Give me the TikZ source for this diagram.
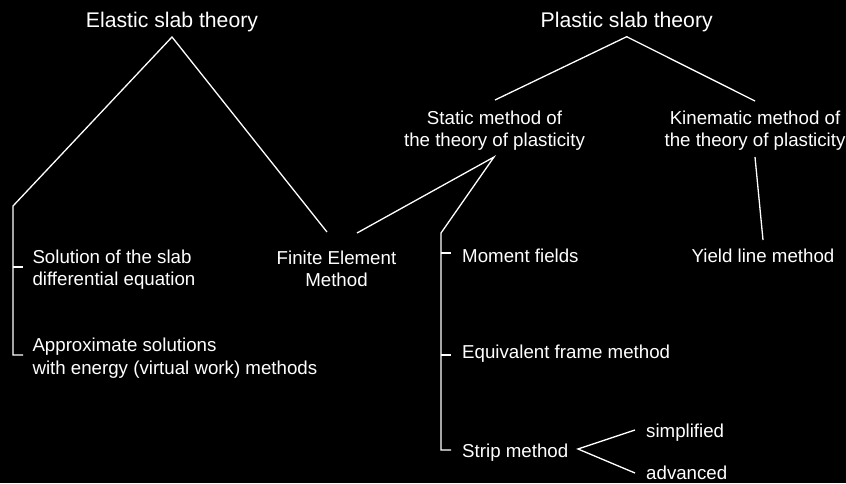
\documentclass[tikz,border=0pt]{standalone}
\usepackage{fontspec}
\setmainfont{Liberation Sans}
\newcommand\bodyfnt{\fontsize{18.7}{22.4}\selectfont}
\newcommand\titlefnt{\fontsize{21.2}{25}\selectfont}
\begin{document}
\begin{tikzpicture}[x=1pt,y=-1pt,
  txt/.style={text=white, inner sep=0pt, font=\bodyfnt},
  ttl/.style={text=white, inner sep=0pt, font=\titlefnt, anchor=base},
  ln/.style={draw=white, line width=1.3pt}]
\fill[black] (0,0) rectangle (846,483);
\useasboundingbox (0,0) rectangle (846,483);

% texts
\node[ttl] (elastic) at (172,27.3) {Elastic slab theory};
\node[ttl] (plastic) at (626.7,27) {Plastic slab theory};
\node[txt, anchor=base] (static) at (494.5,124.3) {\begin{tabular}[t]{@{}c@{}}Static method of\\the theory of plasticity\end{tabular}};
\node[txt, anchor=base] (kinematic) at (755,124.3) {\begin{tabular}[t]{@{}c@{}}Kinematic method of\\the theory of plasticity\end{tabular}};
\node[txt, anchor=base] (fem) at (336.5,264) {\begin{tabular}[t]{@{}c@{}}Finite Element\\Method\end{tabular}};
\node[txt, anchor=base] (yield) at (763,262.7) {Yield line method};
\node[txt, anchor=base west] (solution) at (32.3,263.3) {\begin{tabular}[t]{@{}l@{}}Solution of the slab\\differential equation\end{tabular}};
\node[txt, anchor=base west] (approx) at (32.3,351.7) {\begin{tabular}[t]{@{}l@{}}Approximate solutions\\with energy (virtual work) methods\end{tabular}};
\node[txt, anchor=base west] (moment) at (462,262.7) {Moment fields};
\node[txt, anchor=base west] (equiv) at (462,358.7) {Equivalent frame method};
\node[txt, anchor=base west] (strip) at (462,457.3) {Strip method};
\node[txt, anchor=base west] (simpl) at (646,437.3) {simplified};
\node[txt, anchor=base west] (adv) at (646,479.3) {advanced};

% connector points
\coordinate (eA) at (172,37);
\coordinate (eL) at (13,206);
\coordinate (eB) at (13,355);
\coordinate (eBe) at (23,355);
\coordinate (eT) at (13,267);
\coordinate (eTe) at (23,267);
\coordinate (eF) at (327,232);
\coordinate (pA) at (626.7,36.7);
\coordinate (pS) at (495,100);
\coordinate (pK) at (755,101);
\coordinate (sA) at (494,157);
\coordinate (sF) at (357,233);
\coordinate (sL) at (441,233);
\coordinate (sB) at (441,450);
\coordinate (sBe) at (451,450);
\coordinate (sT1) at (441,253);
\coordinate (sT1e) at (451,253);
\coordinate (sT2) at (441,355);
\coordinate (sT2e) at (451,355);
\coordinate (kA) at (755,157);
\coordinate (kY) at (763,240);
\coordinate (stA) at (578,449);
\coordinate (stU) at (635,430);
\coordinate (stD) at (635,473);

% connectors
\draw[ln] (eT) -- (eTe);
\draw[ln] (eBe) -- (eB) -- (eL) -- (eA) -- (eF);
\draw[ln] (pS) -- (pA) -- (pK);
\draw[ln] (sF) -- (sA) -- (sL) -- (sB) -- (sBe);
\draw[ln] (sT1) -- (sT1e);
\draw[ln] (sT2) -- (sT2e);
\draw[ln] (kA) -- (kY);
\draw[ln] (stU) -- (stA) -- (stD);
\end{tikzpicture}
\end{document}
